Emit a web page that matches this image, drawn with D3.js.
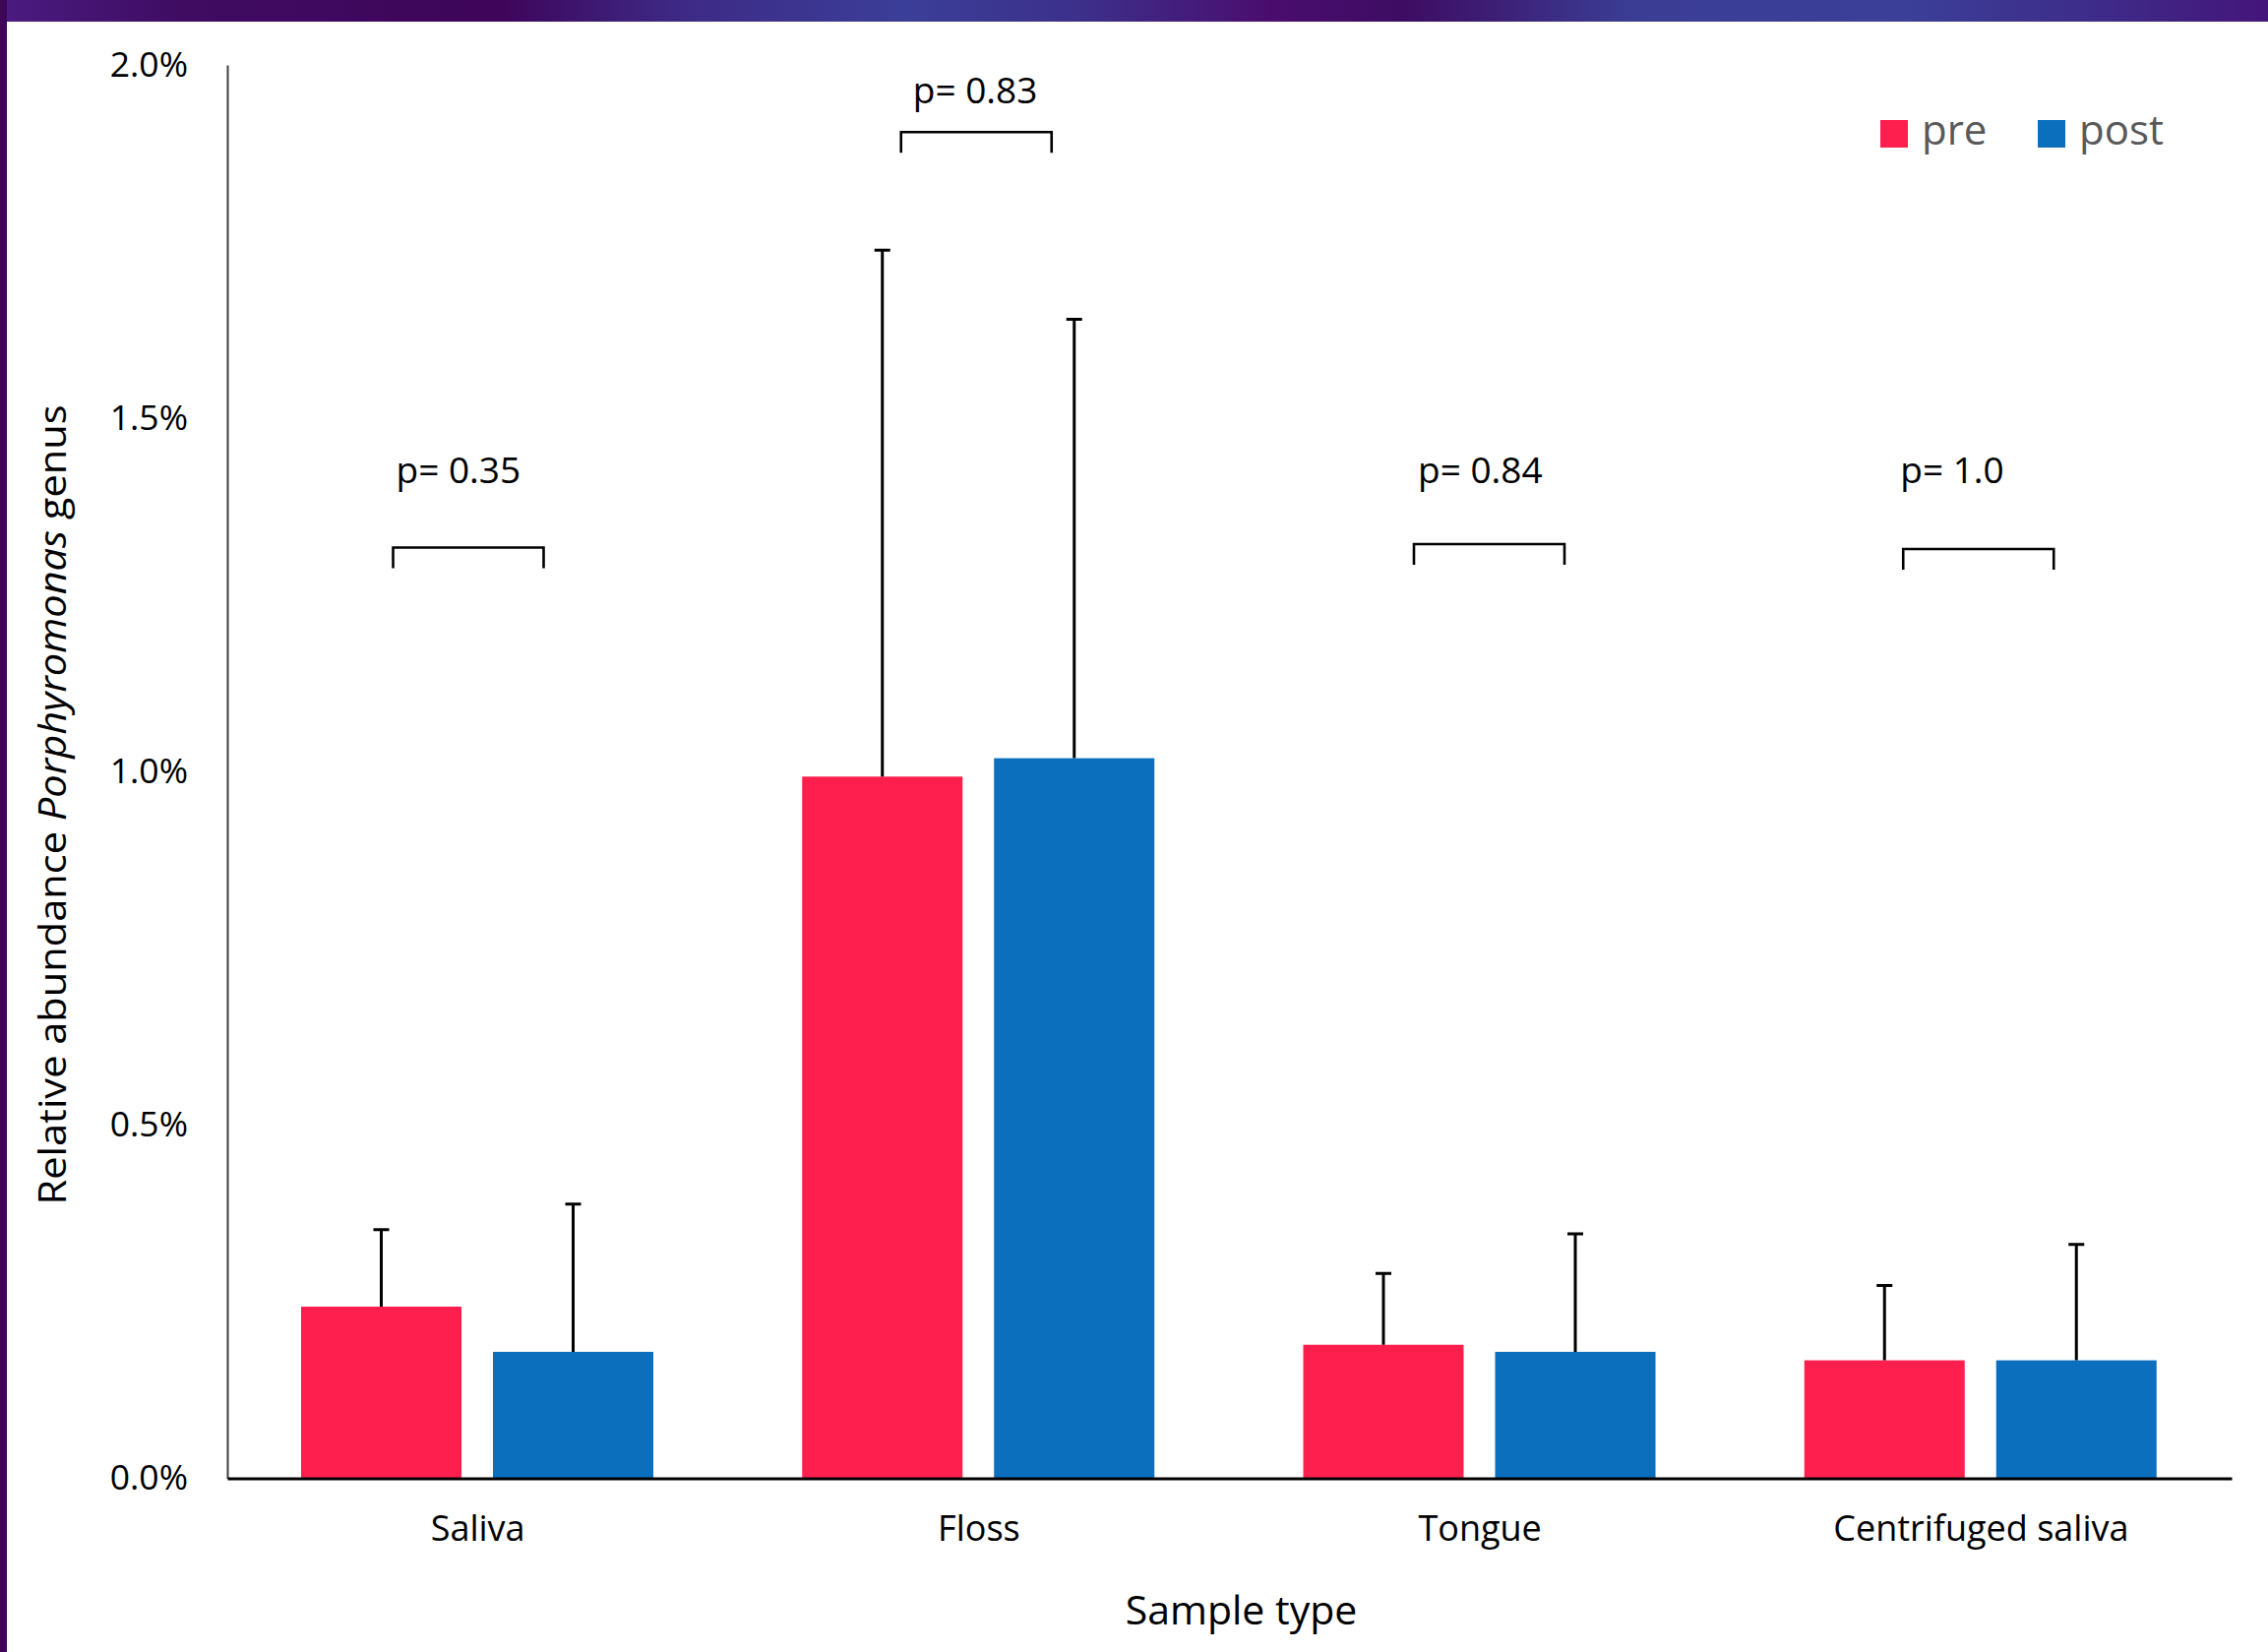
<!DOCTYPE html>
<html>
<head>
<meta charset="utf-8">
<script src="https://cdn.jsdelivr.net/npm/d3@7"></script>
<style>
  html, body { margin: 0; padding: 0; background: #ffffff; }
  svg { display: block; }
  text { font-family: "Open Sans", "Noto Sans", sans-serif; }
</style>
</head>
<body>
<svg id="chart" width="2305" height="1679"></svg>
<script>
// Sample types on the x axis
const categories = ["Saliva", "Floss", "Tongue", "Centrifuged saliva"];
const seriesNames = ["pre", "post"];

// Mean relative abundance (%) of the Porphyromonas genus
const preMean  = [0.243, 0.993, 0.189, 0.167];
const postMean = [0.179, 1.019, 0.179, 0.167];

// Upper error (standard deviation, %)
const preSD  = [0.109, 0.745, 0.101, 0.106];
const postSD = [0.209, 0.621, 0.167, 0.164];

// Paired comparison p-values, with the heights (in %) of the bracket and its label
const pLabels      = ["p= 0.35", "p= 0.83", "p= 0.84", "p= 1.0"];
const bracketLevel = [1.317, 1.905, 1.322, 1.315];
const pLabelLevel  = [1.408, 1.946, 1.408, 1.408];

// Y axis ticks
const yTicks = [0, 0.5, 1.0, 1.5, 2.0];

const colors = { pre: "#ff1f4f", post: "#0b6fbe" };

// Hand placement of the comparison brackets and their labels (px)
const bracketDx = [-7, 0, 12, 0];
const pLabelDx  = [3, 12, 4, -3];

const svg = d3.select("#chart");
const W = 2305, H = 1679;

// ---- purple slide frame -------------------------------------------------
const defs = svg.append("defs");
const grad = defs.append("linearGradient").attr("id", "frameGrad")
  .attr("x1", "0%").attr("x2", "100%").attr("y1", "0%").attr("y2", "0%");
[
  [0.00, "#4a1c80"], [0.08, "#3f0c62"], [0.22, "#3e055a"], [0.30, "#3d2a86"],
  [0.40, "#3b3e98"], [0.48, "#3c2f8a"], [0.56, "#4a0d6e"], [0.62, "#3d0d62"],
  [0.72, "#3b3d95"], [0.84, "#3b3f98"], [0.93, "#3e2a88"], [1.00, "#44157a"]
].forEach(([o, c]) => grad.append("stop").attr("offset", o).attr("stop-color", c));

svg.append("rect").attr("x", 0).attr("y", 0).attr("width", W).attr("height", H).attr("fill", "#ffffff");
svg.append("rect").attr("x", 0).attr("y", 0).attr("width", W).attr("height", 22).attr("fill", "url(#frameGrad)");
svg.append("rect").attr("x", 0).attr("y", 0).attr("width", 7).attr("height", H).attr("fill", "#3d0658");

// ---- scales --------------------------------------------------------------
const x0 = d3.scaleBand().domain(categories).range([231, 2268]).paddingInner(0).paddingOuter(0);
const x1 = d3.scaleBand().domain(seriesNames)
  .range([75, 75 + 358]).paddingInner(32 / 195).paddingOuter(0);
const y = d3.scaleLinear().domain([0, 2.0]).range([1502.5, 66]);

const rows = categories.map((c, i) => ({
  cat: c,
  values: [
    { key: "pre",  mean: preMean[i],  sd: preSD[i] },
    { key: "post", mean: postMean[i], sd: postSD[i] }
  ]
}));

// ---- bars ---------------------------------------------------------------
const groups = svg.append("g").selectAll("g").data(rows).join("g")
  .attr("transform", d => `translate(${x0(d.cat)},0)`);

groups.selectAll("rect").data(d => d.values).join("rect")
  .attr("x", d => x1(d.key))
  .attr("y", d => y(d.mean))
  .attr("width", x1.bandwidth())
  .attr("height", d => y(0) - y(d.mean))
  .attr("fill", d => colors[d.key]);

// ---- error bars (upper only) -----------------------------------------------
const capHalf = 8;
groups.selectAll("path.err").data(d => d.values).join("path")
  .attr("class", "err")
  .attr("d", d => {
    const cx = x1(d.key) + x1.bandwidth() / 2;
    const top = y(d.mean + d.sd);
    return `M${cx},${y(d.mean)}V${top}M${cx - capHalf},${top}H${cx + capHalf}`;
  })
  .attr("fill", "none").attr("stroke", "#000").attr("stroke-width", 3);

// ---- axes ---------------------------------------------------------------
const yAxis = svg.append("g").attr("transform", "translate(231,0)")
  .call(d3.axisLeft(y).tickValues(yTicks).tickSize(0).tickPadding(40)
    .tickFormat(d => d.toFixed(1) + "%"));
yAxis.select(".domain").attr("stroke", "#404040").attr("stroke-width", 2);
yAxis.selectAll("text").attr("font-size", 35.5).attr("fill", "#000")
  .attr("font-family", "Open Sans, sans-serif");

const xAxis = svg.append("g").attr("transform", `translate(0,${y(0)})`)
  .call(d3.axisBottom(x0).tickSize(0).tickPadding(38));
xAxis.select(".domain").attr("stroke", "#000").attr("stroke-width", 3);
xAxis.selectAll("text").attr("font-size", 36).attr("fill", "#000")
  .attr("font-family", "Open Sans, sans-serif");

// ---- axis titles -----------------------------------------------------------
svg.append("text")
  .attr("x", (231 + 2268) / 2 + 12).attr("y", 1651)
  .attr("text-anchor", "middle").attr("font-size", 41).attr("fill", "#000")
  .text("Sample type");

const yTitle = svg.append("text")
  .attr("transform", "translate(67,818) rotate(-90)")
  .attr("text-anchor", "middle").attr("font-size", 38).attr("fill", "#000")
  .attr("textLength", 813).attr("lengthAdjust", "spacingAndGlyphs");
yTitle.append("tspan").text("Relative abundance ");
yTitle.append("tspan").attr("font-style", "italic").text("Porphyromonas");
yTitle.append("tspan").text(" genus");

// ---- significance brackets ---------------------------------------------------
const legDrop = 21;
rows.forEach((r, i) => {
  const left = x0(r.cat) + x1("pre") + x1.bandwidth() / 2 + 19 + bracketDx[i];
  const right = x0(r.cat) + x1("post") + x1.bandwidth() / 2 - 23 + bracketDx[i];
  const by = y(bracketLevel[i]);
  svg.append("path")
    .attr("d", `M${left},${by + legDrop}V${by}H${right}V${by + legDrop}`)
    .attr("fill", "none").attr("stroke", "#000").attr("stroke-width", 2.6);
  svg.append("text")
    .attr("x", left + pLabelDx[i]).attr("y", y(pLabelLevel[i]))
    .attr("font-size", 37).attr("fill", "#000")
    .text(pLabels[i]);
});

// ---- legend -------------------------------------------------------------
const legendX = [1911, 2071];
const legend = svg.append("g").selectAll("g").data(seriesNames).join("g")
  .attr("transform", (d, i) => `translate(${legendX[i]},122)`);
legend.append("rect").attr("width", 28).attr("height", 28).attr("fill", d => colors[d]);
legend.append("text").attr("x", 42).attr("y", 25)
  .attr("font-size", 42).attr("fill", "#595959").text(d => d);
</script>
</body>
</html>
